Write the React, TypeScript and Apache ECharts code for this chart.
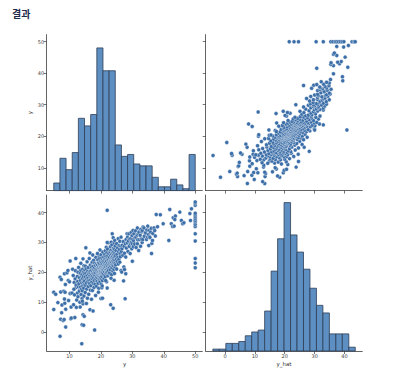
import React, { useEffect, useRef } from "react";
import * as echarts from "echarts";

// axis extents and ticks
const yRange = [2.75, 52.25];
const yHatRange = [-6.45, 45.95];
const yTicks = [10, 20, 30, 40, 50];
const yHatTicks = [0, 10, 20, 30, 40];

// histogram of y (23 bins from 5 to 50)
const yBinStart = 5;
const yBinEnd = 50;
const yCounts = [4, 17, 11, 20, 38, 34, 40, 75, 63, 63, 24, 18, 19, 14, 13, 13, 7, 2, 2, 6, 3, 1, 19];

// histogram of y_hat (22 bins)
const yHatBinStart = -4.05;
const yHatBinEnd = 43.6;
const yHatCounts = [1, 1, 4, 4, 5, 8, 10, 11, 21, 42, 59, 78, 61, 52, 43, 33, 24, 20, 9, 9, 9, 2];

// [y, y_hat] pairs, grouped by range of y
const pairsLow: number[][] = [
  [5.0, 13.3], [5.0, 7.5], [5.6, 12.6], [6.3, 9.8],
  [7.0, -1.5], [7.2, 4.2], [7.2, 13.4], [7.0, 18.3], [7.4, 17.6], [7.5, 6.4], [7.6, 9.0], [8.0, 3.8], [8.3, 4.1],
  [8.2, 13.6], [8.4, 19.5], [8.5, 9.6], [8.6, 13.3], [8.7, 15.9], [8.8, 7.6], [8.8, 1.6], [8.4, 11.0],
  [9.2, 19.8], [9.5, 20.6], [9.6, 17.2], [10.0, 16.8], [10.2, 23.8], [10.4, 4.4], [10.5, 8.3], [10.6, 4.6],
  [10.2, 12.9], [10.8, 13.0], [9.7, 10.5],
  [11.0, 21.0], [11.3, 9.1], [11.5, 16.6], [11.7, 4.8], [11.8, 17.8], [11.9, 20.5], [12.0, 24.6], [12.0, 14.8],
  [12.1, 15.7], [12.3, 10.7], [12.5, 18.6], [12.5, 13.0], [12.6, 16.9], [12.7, 20.0], [11.2, 18.9], [11.6, 12.4],
  [12.2, 8.2], [12.8, 15.1], [11.4, 14.3], [12.7, 11.8],
  [12.9, 21.6], [13.0, 16.1], [13.1, 13.7], [13.2, 18.2], [13.3, 9.9], [13.4, 8.3], [13.4, 19.7], [13.5, 15.0],
  [13.5, 17.2], [13.6, 20.7], [13.7, 12.5], [13.8, 14.3], [13.8, 18.8], [13.9, -4.0], [13.9, 16.5], [14.0, 2.4],
  [14.0, 11.2], [14.0, 19.2], [14.1, 13.8], [14.1, 17.9], [14.2, 15.5], [14.2, 21.0], [14.3, 5.7], [14.3, 9.4],
  [14.4, 16.8], [14.4, 18.6], [14.5, 2.2], [14.5, 14.7], [14.5, 20.0], [14.6, 12.0], [14.6, 17.4], [14.6, 22.2],
  [14.7, 5.2], [14.7, 15.9], [14.7, 19.5], [14.1, 10.3], [13.6, 23.0], [14.3, 24.5],
];

const pairsMidLow: number[][] = [
  [14.8, 17.0], [14.9, 20.8], [15.0, 13.2], [15.0, 18.5], [15.1, 15.6], [15.1, 22.0], [15.2, 28.2], [15.2, 19.6],
  [15.3, 16.4], [15.4, 9.5], [15.4, 21.2], [15.5, 17.8], [15.5, 14.4], [15.6, 19.0], [15.6, 23.5], [15.7, 11.3],
  [15.8, 16.9], [15.8, 20.3], [15.9, 18.1], [16.0, 15.2], [16.0, 21.6], [16.1, 19.4], [16.1, 12.6], [16.2, 17.3],
  [16.3, 24.6], [16.3, 20.0], [16.4, 16.2], [16.5, 26.5], [16.5, 7.4], [16.5, 18.8], [16.6, 22.4], [16.6, 14.0],
  [16.7, 19.9], [16.7, 17.6],
  [16.8, 20.5], [16.8, 15.5], [16.9, 18.3], [17.0, 21.8], [17.0, 10.9], [17.1, 19.2], [17.1, 16.7], [17.2, 23.4],
  [17.2, 17.9], [17.3, 20.1], [17.3, 13.9], [17.4, 18.7], [17.4, 25.8], [17.5, 7.0], [17.5, 19.7], [17.5, 22.0],
  [17.6, 16.2], [17.6, 20.9], [17.7, 18.1], [17.7, 24.0], [17.8, 19.5], [17.8, 14.9], [17.9, 21.3], [17.9, 17.3],
  [18.0, 0.6], [18.0, 20.4], [18.0, 23.0], [18.1, 18.9], [18.1, 16.0], [18.2, 22.4], [18.2, 19.9], [18.3, 12.2],
  [18.3, 21.0], [18.4, 17.7], [18.4, 25.0], [18.5, 20.7], [18.5, 18.4], [18.6, 22.8], [18.6, 15.3], [18.7, 19.3],
  [18.8, 20.1], [18.8, 17.0], [18.9, 22.5], [18.9, 19.0], [19.0, 24.2], [19.0, 20.8], [19.0, 18.1], [19.1, 21.5],
  [19.1, 16.3], [19.2, 19.6], [19.2, 23.1], [19.3, 20.3], [19.3, 18.7], [19.3, 14.6], [19.4, 21.9], [19.4, 25.5],
  [19.4, 19.2], [19.5, 17.5], [19.5, 20.9], [19.5, 22.8], [19.6, 18.4], [19.6, 20.0], [19.6, 24.6], [19.7, 21.2],
  [19.7, 19.4], [19.7, 16.8], [19.8, 22.2], [19.8, 20.6], [19.8, 18.0], [19.9, 23.6], [19.9, 19.8], [19.9, 21.7],
  [20.0, 11.2], [20.0, 20.4], [20.0, 18.9], [20.0, 25.9], [20.1, 22.0], [20.1, 19.1], [20.1, 16.0], [20.2, 21.0],
  [20.2, 23.3], [20.2, 17.7], [20.3, 20.0], [20.3, 24.8], [20.3, 18.6], [20.4, 22.6], [20.4, 21.4], [20.4, 19.5],
  [20.5, 11.3], [20.5, 20.7], [20.5, 23.9], [20.5, 17.2], [20.6, 21.8], [20.6, 19.9], [20.6, 26.8], [19.2, 13.3],
  [19.7, 27.5], [20.3, 14.8], [18.9, 26.3], [20.4, 15.4],
];

const pairsMidHigh: number[][] = [
  [20.7, 21.0], [20.7, 23.5], [20.8, 19.3], [20.8, 22.2], [20.9, 25.1], [20.9, 20.6], [21.0, 17.9], [21.0, 21.7],
  [21.0, 23.9], [21.1, 20.2], [21.1, 22.8], [21.2, 26.0], [21.2, 19.0], [21.2, 21.4], [21.3, 24.4], [21.3, 22.1],
  [21.4, 18.5], [21.4, 20.8], [21.4, 27.2], [21.5, 23.2], [21.5, 21.8], [21.6, 19.7], [21.6, 25.3], [21.6, 22.5],
  [21.7, 20.4], [21.7, 24.0], [21.7, 28.4], [21.8, 21.1], [21.8, 23.7], [21.8, 16.8], [21.9, 22.6], [21.9, 19.9],
  [21.9, 26.6], [22.0, 40.8], [22.0, 21.5], [22.0, 24.8], [22.0, 14.7], [22.1, 23.0], [22.1, 20.3], [22.1, 27.8],
  [22.2, 22.0], [22.2, 25.6], [22.2, 18.8], [22.3, 23.9], [22.3, 21.2], [22.4, 29.9], [22.4, 24.4], [22.4, 20.7],
  [22.5, 22.7], [22.5, 26.3], [22.6, 19.5], [22.6, 23.4], [22.0, 30.0], [21.5, 17.2],
  [22.7, 21.7], [22.7, 24.9], [22.8, 23.1], [22.8, 19.8], [22.9, 26.8], [22.9, 22.4], [23.0, 24.2], [23.0, 20.9],
  [23.0, 28.6], [23.1, 9.1], [23.1, 23.6], [23.1, 25.7], [23.2, 21.9], [23.2, 27.4], [23.3, 30.1], [23.3, 24.6],
  [23.3, 22.9], [23.4, 19.2], [23.4, 26.1], [23.4, 23.4], [23.5, 25.0], [23.5, 21.4], [23.5, 29.2], [23.6, 32.9],
  [23.6, 24.1], [23.6, 22.6], [23.7, 27.0], [23.7, 25.4], [23.9, 7.9], [23.8, 23.8], [23.8, 20.4], [23.8, 26.5],
  [23.9, 31.6], [23.9, 24.7], [23.9, 22.2], [24.0, 28.0], [24.0, 25.9], [24.0, 23.3], [24.1, 21.0], [24.1, 26.9],
  [24.1, 24.3], [24.2, 29.8], [24.2, 22.8], [24.3, 25.3], [24.3, 27.7], [24.3, 19.6], [24.4, 24.0], [24.4, 26.2],
  [24.5, 23.0], [24.5, 28.8], [24.5, 21.7], [24.2, 17.3], [23.2, 18.0], [24.4, 30.7],
];

const pairsHigh: number[][] = [
  [24.6, 25.6], [24.7, 22.5], [24.8, 27.3], [24.9, 24.4], [25.0, 29.6], [25.0, 21.1], [25.1, 26.0], [25.2, 23.6],
  [25.3, 28.2], [25.4, 25.0], [25.5, 31.3], [25.5, 22.8], [25.6, 26.9], [25.7, 24.3], [25.8, 29.0], [25.9, 27.6],
  [26.0, 23.4], [26.0, 30.4], [26.1, 26.3], [26.2, 25.2], [26.3, 28.8], [26.4, 20.6], [26.5, 27.0], [26.4, 31.8],
  [26.6, 20.1], [26.7, 27.9], [26.8, 29.1], [27.0, 25.7], [27.1, 30.3], [27.2, 17.1], [27.3, 21.8], [27.4, 28.7],
  [27.5, 20.9], [27.5, 26.4], [27.7, 11.1], [27.8, 29.6], [27.9, 25.1], [27.9, 19.5], [28.0, 31.0], [28.1, 28.1],
  [28.3, 32.9], [28.4, 29.9],
  [28.5, 31.8], [28.6, 27.0], [28.7, 30.5], [28.9, 32.9], [29.0, 28.7], [29.1, 31.2], [29.3, 26.3], [29.4, 29.6],
  [29.5, 31.3], [29.6, 33.4], [29.7, 30.0], [29.8, 27.9], [29.9, 32.3], [30.0, 23.7], [30.0, 29.6], [30.1, 31.0],
  [30.2, 34.0], [30.3, 28.6], [30.4, 30.6],
  [30.5, 32.9], [30.7, 29.5], [30.8, 31.6], [31.0, 33.9], [31.1, 31.8], [31.2, 28.3], [31.5, 32.5], [31.6, 29.6],
  [31.6, 34.9], [31.7, 30.9], [31.9, 33.0], [32.0, 27.3], [32.1, 33.5], [32.3, 31.0],
  [32.5, 32.4], [32.6, 28.7], [32.7, 34.4], [32.9, 31.2], [33.0, 33.6], [33.1, 30.0], [33.2, 34.0], [33.3, 31.0],
  [33.4, 35.2], [33.7, 34.9], [33.8, 32.1], [34.1, 33.3], [34.2, 33.2],
  [34.5, 31.0], [34.6, 34.2], [34.8, 31.8], [34.9, 35.5], [35.1, 32.6], [35.2, 29.0], [35.3, 34.0], [35.4, 32.0],
  [35.6, 31.7], [35.8, 33.5], [36.0, 34.8], [36.1, 26.3], [36.2, 29.7],
  [36.4, 30.7], [36.5, 33.0], [36.9, 34.9], [37.1, 34.0], [37.3, 32.2], [37.6, 39.4], [38.0, 35.3],
  [38.9, 39.3], [39.8, 36.3], [41.6, 30.7], [41.9, 41.1],
  [42.4, 36.3], [42.8, 35.4], [43.0, 38.3], [43.3, 35.5], [43.7, 38.9], [43.5, 37.7],
  [45.1, 40.2], [45.6, 37.4], [46.0, 36.3], [46.4, 36.6],
  [48.3, 39.7], [48.5, 37.4], [48.8, 41.3],
];

// the capped value y = 50
const cappedY = 50;
const cappedYHat = [21.5, 23.1, 24.6, 30.5, 32.9, 35.4, 36.1, 36.9, 37.4, 38.0, 38.6, 39.2, 39.8, 42.5, 43.2, 43.6];

const AXIS_COLOR = "#3c3c3c";
const LABEL_COLOR = "#404040";
const BAR_FILL = "#5d8fc2";
const BAR_EDGE = "#2e3e56";
const DOT = "#3b6ea8";
const FONT = "DejaVu Sans";

function valueAxis(
  gridIndex: number,
  range: number[],
  ticks: number[],
  showLabels: boolean,
  name: string,
  isY: boolean
) {
  return {
    type: "value",
    gridIndex,
    min: range[0],
    max: range[1],
    name: name,
    nameLocation: "middle",
    nameGap: isY ? 14 : 10,
    nameTextStyle: { fontSize: 5.5, color: "#333", fontFamily: FONT },
    axisLine: { show: true, onZero: false, lineStyle: { color: AXIS_COLOR, width: 0.8 } },
    axisTick: { show: true, length: 3, customValues: ticks, lineStyle: { color: AXIS_COLOR, width: 0.7 } },
    axisLabel: {
      show: showLabels,
      customValues: ticks,
      fontSize: 5,
      margin: 2.5,
      color: LABEL_COLOR,
      fontFamily: FONT,
    },
    splitLine: { show: false },
  };
}

function histSeries(
  xAxisIndex: number,
  yAxisIndex: number,
  start: number,
  end: number,
  counts: number[]
) {
  const w = (end - start) / counts.length;
  return {
    type: "custom",
    xAxisIndex,
    yAxisIndex,
    encode: { x: [0, 1], y: 2 },
    data: counts.map((c, i) => [start + i * w, start + (i + 1) * w, c]),
    renderItem: (_params: any, api: any) => {
      const p0 = api.coord([api.value(0), api.value(2)]);
      const p1 = api.coord([api.value(1), 0]);
      return {
        type: "rect",
        shape: { x: p0[0], y: p0[1], width: p1[0] - p0[0], height: p1[1] - p0[1] },
        style: { fill: BAR_FILL, stroke: BAR_EDGE, lineWidth: 0.8 },
      };
    },
  };
}

export default function App() {
  const ref = useRef<HTMLDivElement>(null);

  useEffect(() => {
    if (!ref.current) return;
    const chart = echarts.init(ref.current, undefined, { renderer: "svg" });

    const allPairs = [
      ...pairsLow,
      ...pairsMidLow,
      ...pairsMidHigh,
      ...pairsHigh,
      ...cappedYHat.map((h) => [cappedY, h]),
    ];

    const countMax = 82;

    const option: any = {
      animation: false,
      backgroundColor: "#ffffff",
      title: {
        text: "결과",
        left: 7,
        top: 3,
        textStyle: {
          fontSize: 10,
          fontWeight: "bold",
          color: "#1d2b4a",
          fontFamily: "Noto Sans CJK KR",
        },
      },
      grid: [
        { left: 46.7, top: 34.6, width: 155.6, height: 156 },
        { left: 205.7, top: 34.6, width: 156.6, height: 156 },
        { left: 46.7, top: 195, width: 155.6, height: 156 },
        { left: 205.7, top: 195, width: 156.6, height: 156 },
      ],
      xAxis: [
        valueAxis(0, yRange, yTicks, false, "", false),
        valueAxis(1, yHatRange, yHatTicks, false, "", false),
        valueAxis(2, yRange, yTicks, true, "y", false),
        valueAxis(3, yHatRange, yHatTicks, true, "y_hat", false),
      ],
      yAxis: [
        valueAxis(0, yRange, yTicks, true, "y", true),
        valueAxis(1, yRange, yTicks, false, "", true),
        valueAxis(2, yHatRange, yHatTicks, true, "y_hat", true),
        valueAxis(3, yHatRange, yHatTicks, false, "", true),
        { type: "value", gridIndex: 0, min: 0, max: countMax, show: false, position: "right" },
        { type: "value", gridIndex: 3, min: 0, max: countMax, show: false, position: "right" },
      ],
      series: [
        histSeries(0, 4, yBinStart, yBinEnd, yCounts),
        histSeries(3, 5, yHatBinStart, yHatBinEnd, yHatCounts),
        {
          type: "scatter",
          xAxisIndex: 1,
          yAxisIndex: 1,
          symbolSize: 4,
          itemStyle: { color: DOT, borderColor: "#ffffff", borderWidth: 0.4, opacity: 1 },
          data: allPairs.map((p) => [p[1], p[0]]),
        },
        {
          type: "scatter",
          xAxisIndex: 2,
          yAxisIndex: 2,
          symbolSize: 4,
          itemStyle: { color: DOT, borderColor: "#ffffff", borderWidth: 0.4, opacity: 1 },
          data: allPairs.map((p) => [p[0], p[1]]),
        },
      ],
    };

    chart.setOption(option);
    return () => chart.dispose();
  }, []);

  return (
    <div
      ref={ref}
      style={{ position: "fixed", left: 0, top: 0, width: 399, height: 369, background: "#fff" }}
    />
  );
}
